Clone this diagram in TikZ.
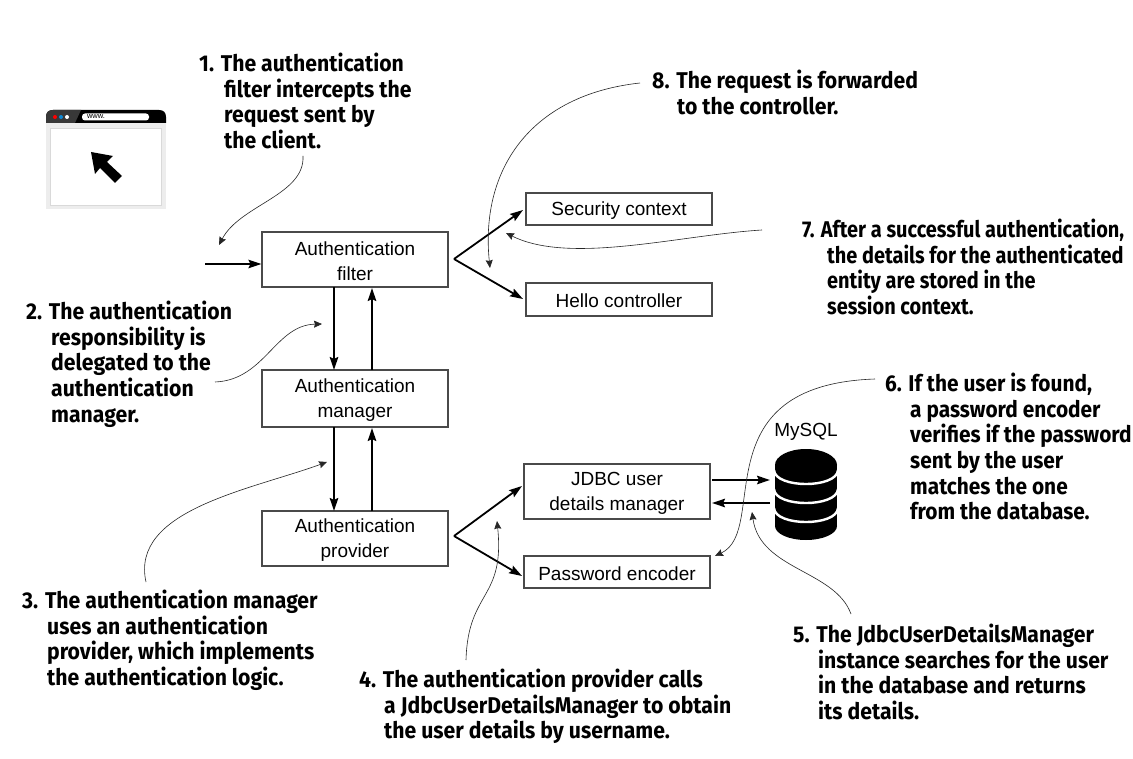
\documentclass[tikz,border=0pt]{standalone}
\usepackage{fontspec}
\setmainfont{Liberation Sans}
\newfontfamily\annofont[FakeStretch=0.93]{Fira Sans Bold}
\newfontfamily\annofontb[FakeStretch=0.875]{Fira Sans Bold}
\newfontfamily\annofontc[FakeStretch=0.915]{Fira Sans Bold}
\usetikzlibrary{arrows.meta}
\definecolor{boxgray}{HTML}{4A4A4A}
\tikzset{
  x=1pt,y=-1pt,
  comp/.style={draw=boxgray,line width=1.1pt,fill=white,minimum width=186pt,align=center,font=\fontsize{19}{25}\selectfont,inner sep=0pt},
  flow/.style={line width=1.8pt,-{Stealth[length=13pt,width=8.5pt,inset=2pt]}},
  call/.style={draw=black!85,line width=0.6pt,-{Stealth[length=8pt,width=7pt,inset=1pt]}},
  anno/.style={anchor=north west,align=left,inner sep=0pt,font=\annofont\fontsize{22.8}{25.6}\selectfont},
  annob/.style={anno,font=\annofontb\fontsize{22.8}{25.6}\selectfont},
  annoc/.style={anno,font=\annofontc\fontsize{22.8}{25.6}\selectfont},
}
\newcommand{\hg}{\hspace*{25pt}}
\newcommand{\tp}{\rule{0pt}{17pt}}
\begin{document}
\begin{tikzpicture}
\useasboundingbox (0,0) rectangle (1133,759);
\fill[white] (0,0) rectangle (1133,759);
% browser
\fill[black!7] (46,122) rectangle (166,209);
\fill[white] (50,128) rectangle (161,205);
\draw[black!15,line width=0.8pt] (50,128) rectangle (161,205);
\fill[black] (46,123) -- (46,117) .. controls (46,112.5) and (48.5,110) .. (53,110) -- (159,110) .. controls (163.5,110) and (166,112.5) .. (166,117) -- (166,123) -- cycle;
\fill[black!78] (46,123) -- (46,117) .. controls (46,112.5) and (48.5,110) .. (53,110) -- (81,110) -- (75,123) -- cycle;
\fill[red] (55,117) circle (2);
\fill[cyan!70!blue] (61,117) circle (2);
\fill[white] (67,117) circle (2);
\fill[white,rounded corners=3pt] (82,113.5) rectangle (149,120.5);
\node[inner sep=0pt,font=\fontsize{7.5}{8}\selectfont] (www) at (96,117) {www.};
\fill[black] (91,152) -- (113,156) -- (107,162) -- (122,176) -- (115,183) -- (100,168) -- (95,174) -- cycle;
% boxes
\node[comp,minimum height=55pt] (filter) at (355,259.5) {\tp Authentication\\filter};
\node[comp,minimum height=57pt] (manager) at (355,398.5) {\tp Authentication\\manager};
\node[comp,minimum height=55pt] (provider) at (355,538.5) {\tp Authentication\\provider};
\node[comp,minimum height=32pt] (security) at (619,209) {\tp Security context};
\node[comp,minimum height=33pt] (hello) at (619,299.5) {\tp Hello controller};
\node[comp,minimum height=55pt] (jdbc) at (617,491.5) {\tp JDBC user\\details manager};
\node[comp,minimum height=32pt] (encoder) at (617,572) {\tp Password encoder};
\node[inner sep=0pt,font=\fontsize{19}{22}\selectfont] (mysql) at (806,431.5) {MySQL};
% database
\fill[black] (775,465) rectangle (837,526);
\fill[black] (806,465) ellipse [x radius=31,y radius=16];
\fill[black] (806,526) ellipse [x radius=31,y radius=14];
\foreach \cc in {470,489,508}{
  \draw[white,line width=2.4pt] (774,\cc) .. controls (775,\cc+18.7) and (837,\cc+18.7) .. (838,\cc);
}
% flow connectors
\coordinate (in) at (205,264);
\coordinate (f1) at (454,259);
\coordinate (f2) at (454,536);
\coordinate (dbin) at (770,480);
\coordinate (dbout) at (770,503);
\draw[flow] (in) -- (in -| filter.west);
\draw[flow] (334,287) -- (334,370);
\draw[flow] (372,370) -- (372,288);
\draw[flow] (334,427) -- (334,511);
\draw[flow] (372,511) -- (372,428);
\draw[flow] (f1) -- (523,210);
\draw[flow] (f1) -- (523,299);
\draw[flow] (f2) -- (522,486);
\draw[flow] (f2) -- (522,576);
\draw[flow] (712,480) -- (dbin);
\draw[flow] (dbout) -- (712,503);
% callouts
\node[anno] (n1) at (199,53) {1. The authentication\\\hg filter intercepts the\\\hg request sent by\\\hg the client.};
\node[anno] (n2) at (26,301) {2. The authentication\\\hg responsibility is\\\hg delegated to the\\\hg authentication\\\hg manager.};
\node[anno] (n3) at (22,590) {3. The authentication manager\\\hg uses an authentication\\\hg provider, which implements\\\hg the authentication logic.};
\node[anno] (n4) at (359,669) {4. The authentication provider calls\\\hg a JdbcUserDetailsManager to obtain\\\hg the user details by username.};
\node[anno] (n5) at (793,624) {5. The JdbcUserDetailsManager\\\hg instance searches for the user\\\hg in the database and returns\\\hg its details.};
\node[annoc] (n6) at (885,373) {6. If the user is found,\\\hg a password encoder\\\hg verifies if the password\\\hg sent by the user\\\hg matches the one\\\hg from the database.};
\node[annob] (n7) at (802,219) {7. After a successful authentication,\\\hg the details for the authenticated\\\hg entity are stored in the\\\hg session context.};
\node[anno] (n8) at (652,70) {8. The request is forwarded\\\hg to the controller.};
\coordinate (a1) at (303,156);
\coordinate (e1) at (219,245);
\coordinate (a2) at (215,382);
\coordinate (e2) at (322,324);
\coordinate (a3) at (146,582);
\coordinate (e3) at (327,462);
\coordinate (a4) at (466,660);
\coordinate (e4) at (497,521);
\coordinate (a5) at (851,614);
\coordinate (e5) at (752,512);
\coordinate (a6) at (875,379);
\coordinate (e6) at (715,556);
\coordinate (a7) at (762,230);
\coordinate (e7) at (506,233);
\coordinate (a8) at (640,83);
\coordinate (e8) at (490,268);
\draw[call] (a1) .. controls (305,195) and (240,205) .. (e1);
\draw[call] (a2) .. controls (265,380) and (275,325) .. (e2);
\draw[call] (a3) .. controls (130,510) and (250,490) .. (e3);
\draw[call] (a4) .. controls (468,590) and (505,600) .. (e4);
\draw[call] (a5) .. controls (835,570) and (760,570) .. (e5);
\draw[call] (a6) .. controls (700,385) and (770,530) .. (e6);
\draw[call] (a7) .. controls (680,235) and (570,265) .. (e7);
\draw[call] (a8) .. controls (530,95) and (480,170) .. (e8);
\end{tikzpicture}
\end{document}
